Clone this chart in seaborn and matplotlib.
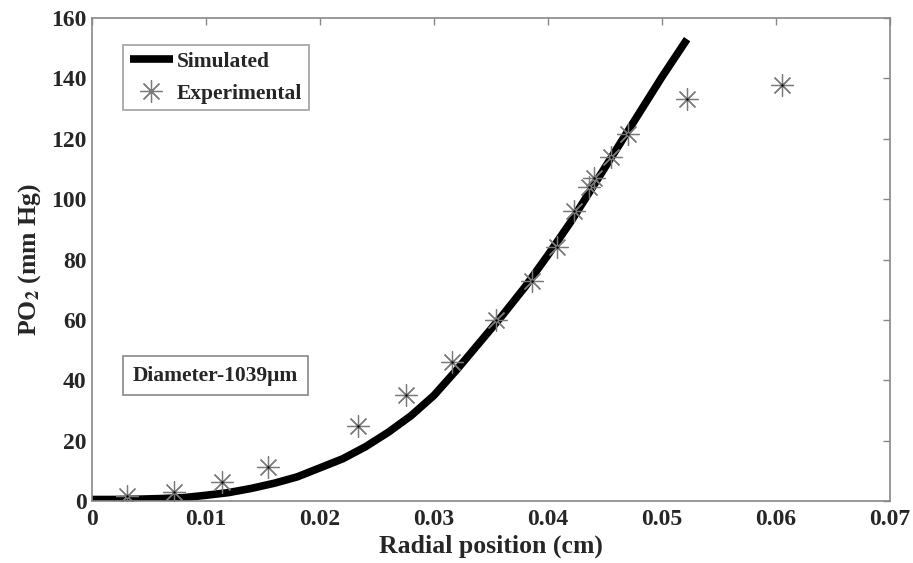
import matplotlib
matplotlib.use("Agg")
import matplotlib.pyplot as plt
import seaborn as sns
import pandas as pd

# Simulated curve
sim_x = [0.000, 0.002, 0.004, 0.006, 0.008, 0.010, 0.012, 0.014, 0.016, 0.018,
         0.020, 0.022, 0.024, 0.026, 0.028, 0.030, 0.032, 0.034, 0.036, 0.038,
         0.040, 0.042, 0.044, 0.046, 0.048, 0.050, 0.0522]
sim_y = [0.5, 0.5, 0.6, 0.8, 1.1, 1.9, 2.8, 4.2, 5.9, 8.0,
         11.0, 14.0, 18.0, 22.8, 28.3, 35.0, 43.5, 52.5, 61.5, 71.0,
         81.5, 92.5, 104.5, 116.5, 128.5, 140.5, 153.0]

# Experimental points
exp_x = [0.0031, 0.0072, 0.0114, 0.0154, 0.0233, 0.0275, 0.0316, 0.0354, 0.0386,
         0.0408, 0.0423, 0.0436, 0.0440, 0.0455, 0.0470, 0.0522, 0.0605]
exp_y = [1.7, 3.0, 6.3, 11.3, 25.0, 35.0, 46.0, 60.0, 73.0,
         84.0, 96.0, 104.0, 107.0, 114.0, 121.5, 133.2, 137.8]

x_ticks = [0, 0.01, 0.02, 0.03, 0.04, 0.05, 0.06, 0.07]
x_tick_labels = ["0", "0.01", "0.02", "0.03", "0.04", "0.05", "0.06", "0.07"]
y_ticks = [0, 20, 40, 60, 80, 100, 120, 140, 160]

sns.set_style("white")
plt.rcParams["font.family"] = ["Liberation Serif", "DejaVu Serif"]
plt.rcParams["font.weight"] = "bold"
plt.rcParams["mathtext.fontset"] = "stix"

sim_df = pd.DataFrame({"x": sim_x, "y": sim_y})
exp_df = pd.DataFrame({"x": exp_x, "y": exp_y})

fig = plt.figure(figsize=(9.13, 5.63), dpi=100)
ax = fig.add_axes([0.1008, 0.1101, 0.8740, 0.8579])

sns.lineplot(data=sim_df, x="x", y="y", ax=ax, color="black", linewidth=5.5,
             label="Simulated", sort=False, solid_joinstyle="round",
             solid_capstyle="butt")
ax.plot(exp_x, exp_y, linestyle="none", marker=(8, 2, 0), markersize=16,
        markeredgewidth=0.9, color="#7a7a7a", label="Experimental", zorder=4)
sns.scatterplot(data=exp_df, x="x", y="y", ax=ax, color="black", s=3,
                linewidth=0, zorder=5)

ax.set_xlim(0, 0.07)
ax.set_ylim(0, 160)
ax.set_xticks(x_ticks)
ax.set_xticklabels(x_tick_labels)
ax.set_yticks(y_ticks)
ax.tick_params(direction="in", length=5, width=1, color="#888888",
               labelsize=17, top=True, right=True)
ax.tick_params(axis="x", pad=6)
ax.tick_params(axis="y", pad=4)
for lab in ax.get_xticklabels() + ax.get_yticklabels():
    lab.set_fontweight("bold")
for s in ax.spines.values():
    s.set_color("#888888")
    s.set_linewidth(1.2)

ax.set_xlabel("Radial position (cm)", fontsize=18.5, fontweight="bold", labelpad=3)
ax.set_ylabel(r"PO$_\mathbf{2}$ (mm Hg)", fontsize=18.5, fontweight="bold", labelpad=6)

leg = ax.legend(loc="upper left", bbox_to_anchor=(0.039, 0.944), fontsize=15.5,
                frameon=True, fancybox=False, handlelength=2.0, handletextpad=0.2,
                borderpad=0.3, labelspacing=0.55, borderaxespad=0)
leg.get_frame().set_edgecolor("#888888")
leg.get_frame().set_linewidth(1.2)
for t in leg.get_texts():
    t.set_fontweight("bold")

ax.text(0.0036, 41.5, "Diameter-1039μm", fontsize=15.5, fontweight="bold",
        va="center", ha="left",
        bbox=dict(boxstyle="square,pad=0.45", facecolor="white",
                  edgecolor="#888888", linewidth=1.2))

fig.savefig("out.png", dpi=100)
